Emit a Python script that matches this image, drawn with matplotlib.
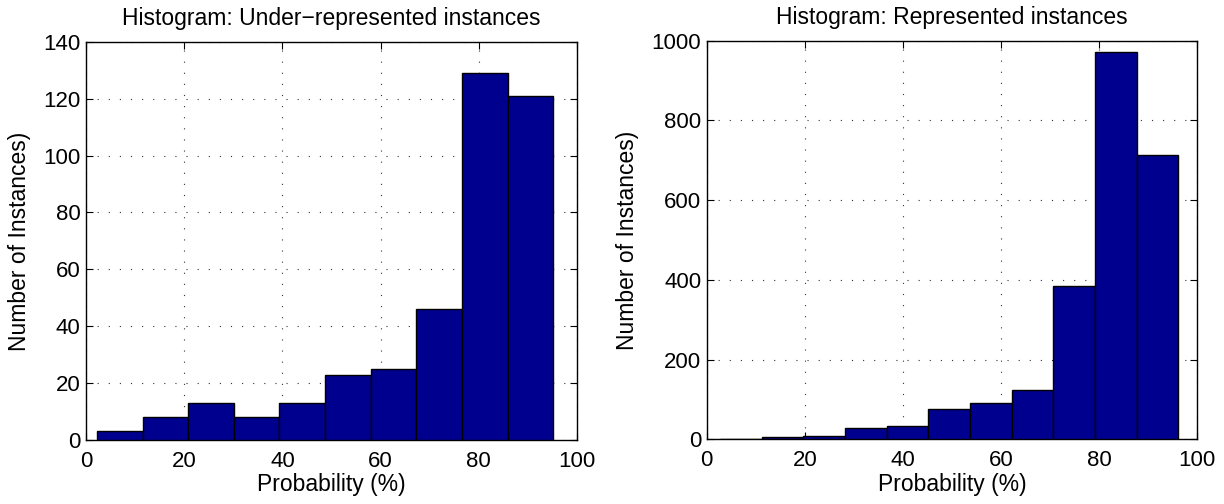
import numpy as np
import matplotlib.pyplot as plt

plt.rcParams["font.family"] = ["Liberation Sans", "DejaVu Sans"]

# bin edges (%) and counts for each histogram
under_edges = [2.2, 11.5, 20.8, 30.1, 39.4, 48.7, 58.0, 67.3, 76.6, 85.9, 95.2]
under_counts = [3, 8, 13, 8, 13, 23, 25, 46, 129, 121]

rep_edges = [2.7, 11.2, 19.7, 28.2, 36.7, 45.2, 53.7, 62.2, 70.7, 79.2, 87.7, 96.2]
rep_counts = [1, 6, 9, 29, 34, 76, 90, 124, 384, 972, 714]

bar_color = "#00008F"


def draw_hist(ax, edges, counts, title, ymax, ystep):
    edges = np.array(edges)
    ax.bar(edges[:-1], counts, width=np.diff(edges), align="edge",
           color=bar_color, edgecolor="black", linewidth=1.0, zorder=3)
    ax.set_xlim(0, 100)
    ax.set_ylim(0, ymax)
    ax.set_xticks(np.arange(0, 101, 20))
    ax.set_yticks(np.arange(0, ymax + 1, ystep))
    ax.grid(True, color="#333333", linestyle=(0, (1, 9)), linewidth=0.8, zorder=1)
    ax.tick_params(direction="in", top=True, right=True, length=5,
                   labelsize=16, width=0.8)
    ax.tick_params(axis="x", pad=8)
    ax.tick_params(axis="y", pad=4)
    for s in ax.spines.values():
        s.set_linewidth(1.0)
    ax.set_title(title, fontsize=16.5, pad=12)
    ax.set_xlabel("Probability (%)", fontsize=16.5, labelpad=1)
    ax.set_ylabel("Number of Instances)", fontsize=16.5, labelpad=9)


fig = plt.figure(figsize=(12.24, 5.04), dpi=100)
ax1 = fig.add_axes([0.0703, 0.127, 0.4011, 0.790])
ax2 = fig.add_axes([0.5774, 0.1284, 0.4006, 0.791])

draw_hist(ax1, under_edges, under_counts,
          "Histogram: Under\u2212represented instances", 140, 20)
draw_hist(ax2, rep_edges, rep_counts,
          "Histogram: Represented instances", 1000, 200)

fig.savefig("out.png", dpi=100)
